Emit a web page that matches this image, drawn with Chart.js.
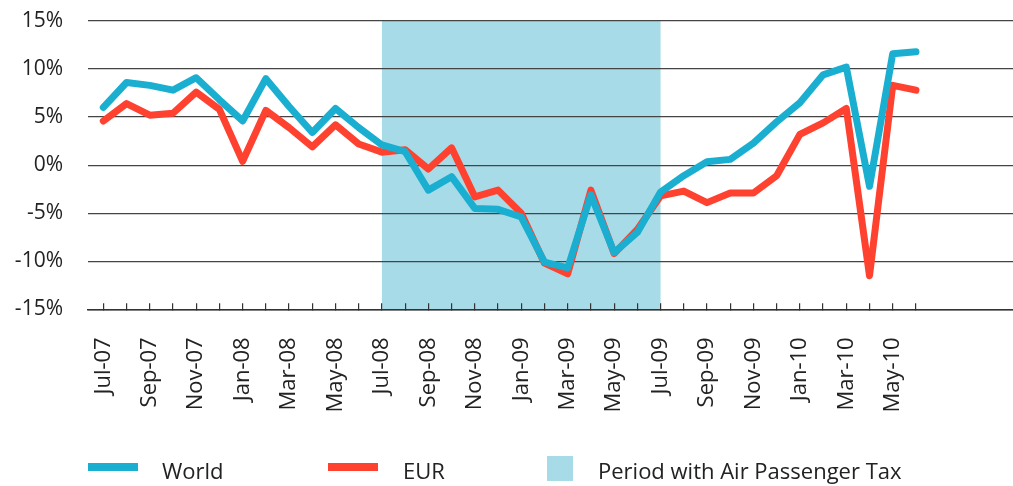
<!DOCTYPE html>
<html>
<head>
<meta charset="utf-8">
<title>World vs EUR</title>
<script src="https://cdn.jsdelivr.net/npm/chart.js@4.4.1/dist/chart.umd.min.js"></script>
<style>
    body { margin: 0; background: #fff; font-family: 'Open Sans', sans-serif; color: #222; }
    #wrap { position: relative; width: 1013px; height: 486px; }
    #legend { position: absolute; left: 0; top: 0; width: 1013px; height: 486px; pointer-events: none; }
    .swatch { position: absolute; }
    .legend-text { position: absolute; font-size: 22px; line-height: 22px; white-space: nowrap; color: #222; }
</style>
</head>
<body>
<div id="wrap">
    <canvas id="growthChart" width="1013" height="486"></canvas>
    <div id="legend"></div>
</div>
<script>
// Chart data
const months = ['Jul-07', 'Aug-07', 'Sep-07', 'Oct-07', 'Nov-07', 'Dec-07',
    'Jan-08', 'Feb-08', 'Mar-08', 'Apr-08', 'May-08', 'Jun-08',
    'Jul-08', 'Aug-08', 'Sep-08', 'Oct-08', 'Nov-08', 'Dec-08',
    'Jan-09', 'Feb-09', 'Mar-09', 'Apr-09', 'May-09', 'Jun-09',
    'Jul-09', 'Aug-09', 'Sep-09', 'Oct-09', 'Nov-09', 'Dec-09',
    'Jan-10', 'Feb-10', 'Mar-10', 'Apr-10', 'May-10', 'Jun-10'];

const world = [6.0, 8.6, 8.3, 7.8, 9.1, 6.8, 4.6, 9.0, 6.1, 3.4, 5.9, 3.9,
    2.1, 1.4, -2.6, -1.2, -4.5, -4.6, -5.4, -10.1, -10.7, -3.1, -9.1, -7.0,
    -2.8, -1.1, 0.35, 0.6, 2.3, 4.5, 6.5, 9.4, 10.2, -2.2, 11.6, 11.8];

const eur = [4.6, 6.4, 5.2, 5.4, 7.6, 5.8, 0.4, 5.7, 3.9, 1.9, 4.2, 2.2,
    1.35, 1.6, -0.4, 1.8, -3.3, -2.6, -5.0, -10.2, -11.3, -2.6, -9.2, -6.7,
    -3.2, -2.7, -3.9, -2.9, -2.9, -1.1, 3.2, 4.4, 5.9, -11.5, 8.3, 7.8];

const yTicks = [-15, -10, -5, 0, 5, 10, 15];
const taxPeriod = ['Jul-08', 'Jul-09'];

const seriesNames = ['World', 'EUR'];
const periodName = 'Period with Air Passenger Tax';

const BLUE = '#1aafd0';
const RED = '#ff4230';
const SHADE = '#a8dbe8';
const TEXT = '#222';
const GRID = '#444';

// Shaded tax period, drawn behind the grid
const taxPeriodPlugin = {
    id: 'taxPeriod',
    beforeDraw(chart) {
        const { ctx, chartArea, scales } = chart;
        const x0 = scales.x.getPixelForValue(months.indexOf(taxPeriod[0]));
        const x1 = scales.x.getPixelForValue(months.indexOf(taxPeriod[1]));
        ctx.save();
        ctx.fillStyle = SHADE;
        ctx.fillRect(x0, chartArea.top, x1 - x0, chartArea.bottom - chartArea.top);
        ctx.restore();
    }
};

function toPoints(values) {
    return values.map((v, i) => ({ x: i, y: v }));
}

const ctx = document.getElementById('growthChart').getContext('2d');

new Chart(ctx, {
    type: 'line',
    data: {
        datasets: [{
            label: seriesNames[0],
            data: toPoints(world),
            borderColor: BLUE,
            backgroundColor: BLUE,
            borderWidth: 7,
            pointRadius: 0,
            tension: 0,
            borderJoinStyle: 'round',
            borderCapStyle: 'round'
        }, {
            label: seriesNames[1],
            data: toPoints(eur),
            borderColor: RED,
            backgroundColor: RED,
            borderWidth: 7,
            pointRadius: 0,
            tension: 0,
            borderJoinStyle: 'round',
            borderCapStyle: 'round'
        }]
    },
    options: {
        responsive: false,
        animation: false,
        devicePixelRatio: 1,
        layout: { padding: { top: 21, left: 0, right: 0, bottom: 0 } },
        plugins: {
            legend: { display: false },
            tooltip: { enabled: false }
        },
        scales: {
            x: {
                type: 'linear',
                min: -0.66,
                max: 39.18,
                afterBuildTicks: scale => {
                    scale.ticks = months.map((m, i) => ({ value: i }));
                },
                afterFit: scale => {
                    scale.height = 486 - 309.3;
                },
                ticks: {
                    autoSkip: false,
                    minRotation: 90,
                    maxRotation: 90,
                    padding: 34,
                    color: TEXT,
                    font: { family: "'Open Sans'", size: 22 },
                    callback: (value, index) => index % 2 === 0 ? months[index] : ''
                },
                grid: {
                    drawOnChartArea: false,
                    drawTicks: true,
                    tickLength: -6,
                    color: '#333',
                    lineWidth: 1.2
                },
                border: { display: true, color: '#333', width: 1.5 }
            },
            y: {
                min: -15,
                max: 15,
                afterBuildTicks: scale => {
                    scale.ticks = yTicks.map(v => ({ value: v }));
                },
                afterFit: scale => {
                    scale.width = 88;
                    scale.paddingTop = 0;
                    scale.paddingBottom = 0;
                },
                ticks: {
                    padding: 25,
                    color: TEXT,
                    font: { family: "'Open Sans'", size: 21 },
                    callback: value => value + '%'
                },
                grid: {
                    color: GRID,
                    lineWidth: 1.3,
                    drawTicks: false
                },
                border: { display: false }
            }
        }
    },
    plugins: [taxPeriodPlugin]
});

// Legend
const legendItems = [
    { name: seriesNames[0], color: BLUE, kind: 'line', left: 88, textLeft: 162 },
    { name: seriesNames[1], color: RED, kind: 'line', left: 328, textLeft: 403 },
    { name: periodName, color: SHADE, kind: 'box', left: 547, textLeft: 598 }
];

const legend = document.getElementById('legend');
legend.innerHTML = legendItems.map(item => {
    const swatch = item.kind === 'line'
        ? `<div class="swatch" style="left:${item.left}px;top:463px;width:50px;height:8px;background:${item.color}"></div>`
        : `<div class="swatch" style="left:${item.left}px;top:456px;width:26px;height:25px;background:${item.color}"></div>`;
    return swatch + `<div class="legend-text" style="left:${item.textLeft}px;top:459px">${item.name}</div>`;
}).join('');
</script>
</body>
</html>
